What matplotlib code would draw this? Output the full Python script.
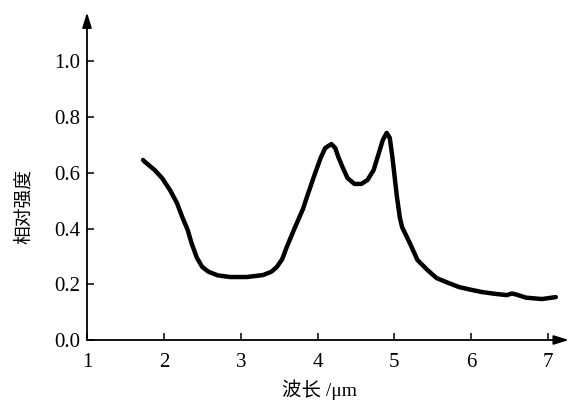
import matplotlib.pyplot as plt
import numpy as np

# spectrum
wavelength = [1.73, 1.75, 1.88, 1.98, 2.08, 2.17, 2.24, 2.31, 2.36, 2.43,
              2.50, 2.58, 2.70, 2.86, 3.08, 3.29, 3.40, 3.47, 3.54, 3.60,
              3.70, 3.81, 3.87, 3.96, 4.04, 4.10, 4.18, 4.23, 4.27, 4.33,
              4.39, 4.48, 4.57, 4.65, 4.73, 4.79, 4.85, 4.90, 4.94, 4.975,
              5.03, 5.07, 5.10, 5.20, 5.30, 5.43, 5.55, 5.70, 5.84, 6.00,
              6.14, 6.30, 6.46, 6.53, 6.60, 6.71, 6.92, 7.10]
intensity = [0.646, 0.640, 0.610, 0.580, 0.538, 0.492, 0.441, 0.395, 0.348, 0.295,
             0.262, 0.245, 0.232, 0.226, 0.226, 0.233, 0.245, 0.262, 0.290, 0.334,
             0.400, 0.470, 0.520, 0.592, 0.653, 0.689, 0.703, 0.689, 0.657, 0.617,
             0.581, 0.560, 0.560, 0.574, 0.610, 0.664, 0.718, 0.743, 0.725, 0.653,
             0.520, 0.440, 0.405, 0.348, 0.287, 0.251, 0.222, 0.205, 0.190, 0.180,
             0.172, 0.166, 0.161, 0.167, 0.162, 0.152, 0.147, 0.154]

xticks = [1, 2, 3, 4, 5, 6, 7]
yticks = [0.0, 0.2, 0.4, 0.6, 0.8, 1.0]

serif = ['Liberation Serif', 'DejaVu Serif']
cjk = ['Liberation Serif', 'Noto Sans CJK SC', 'DejaVu Sans']

fig = plt.figure(figsize=(5.73, 4.01), dpi=100)
ax = fig.add_axes([0.1518, 0.1521, 0.841, 0.8167])

ax.plot(wavelength, intensity, color='black', lw=3.2,
        solid_capstyle='round', solid_joinstyle='round')

ax.set_xlim(1, 7.27)
ax.set_ylim(0, 1.175)

for s in ax.spines.values():
    s.set_visible(False)

arrow = dict(arrowstyle='-|>,head_length=0.9,head_width=0.28', color='black',
             lw=1.3, shrinkA=0, shrinkB=0)
ax.annotate('', xy=(1, 0), xytext=(0, 0), xycoords='axes fraction',
            textcoords='axes fraction', arrowprops=arrow, annotation_clip=False)
ax.annotate('', xy=(0, 1), xytext=(0, 0), xycoords='axes fraction',
            textcoords='axes fraction', arrowprops=arrow, annotation_clip=False)

ax.set_xticks(xticks)
ax.set_xticklabels([str(t) for t in xticks], family=serif, fontsize=15)
ax.set_yticks(yticks)
ax.set_yticklabels(['%.1f' % t for t in yticks], family=serif, fontsize=15)
ax.tick_params(axis='x', direction='in', length=5, width=1.1, pad=9)
ax.tick_params(axis='y', direction='in', length=5, width=1.1, pad=5)

fig.text(320 / 573, 1 - 390 / 401, '波长 /μm', family=cjk, fontsize=14,
         ha='center', va='center')
fig.text(24 / 573, 1 - 206 / 401, '相对强度', family=cjk, fontsize=13.5,
         ha='center', va='center', rotation=90)

fig.savefig('out.png', dpi=100)
